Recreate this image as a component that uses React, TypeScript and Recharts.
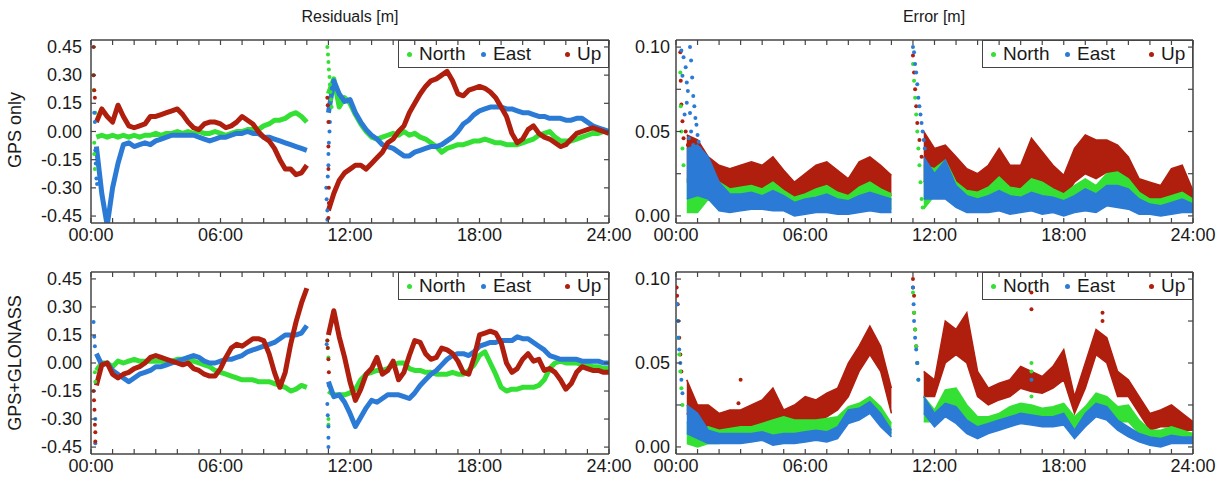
import { ComposedChart, Line, Area, Scatter, XAxis, YAxis } from "recharts";

const FONT = '"Liberation Sans", Arial, Helvetica, sans-serif';
const INK = "#1a1a1a";
const FRAME = "#444";
const GREEN = "#35e035";
const BLUE = "#2b7bd6";
const RED = "#b01e0e";

// axis ticks / labels
const hourTicks = [0, 1, 2, 3, 4, 5, 6, 7, 8, 9, 10, 11, 12, 13, 14, 15, 16, 17, 18, 19, 20, 21, 22, 23, 24];
const resTicks = [-0.45, -0.3, -0.15, 0, 0.15, 0.3, 0.45];
const errTicks = [0, 0.025, 0.05, 0.075, 0.1];
const errLabels = [0, 0.05, 0.1];

// residual time grid (hours), 10.5 is the data gap
const resHours = [
  0.25, 0.5, 0.75, 1, 1.25, 1.5, 1.75, 2, 2.25, 2.5, 2.75, 3, 3.25, 3.5, 3.75, 4, 4.25, 4.5, 4.75, 5,
  5.25, 5.5, 5.75, 6, 6.25, 6.5, 6.75, 7, 7.25, 7.5, 7.75, 8, 8.25, 8.5, 8.75, 9, 9.25, 9.5, 9.75, 10,
  10.5,
  11, 11.25, 11.5, 11.75, 12, 12.25, 12.5, 12.75, 13, 13.25, 13.5, 13.75, 14, 14.25, 14.5, 14.75, 15, 15.25,
  15.5, 15.75, 16, 16.25, 16.5, 16.75, 17, 17.25, 17.5, 17.75, 18, 18.25, 18.5, 18.75, 19, 19.25, 19.5,
  19.75, 20, 20.25, 20.5, 20.75, 21, 21.25, 21.5, 21.75, 22, 22.25, 22.5, 22.75, 23, 23.25, 23.5, 23.75, 24,
];

// GPS only residuals [m]
const gpsNorthRes = [
  -0.03, -0.02, -0.03, -0.02, -0.03, -0.02, -0.03, -0.02, -0.03, -0.02,
  -0.02, -0.01, -0.02, -0.01, -0.01, 0.0, -0.01, 0.0, -0.01, 0.0,
  -0.01, -0.01, 0.0, -0.01, -0.02, -0.01, 0.0, 0.0, 0.01, 0.01,
  0.01, 0.03, 0.04, 0.06, 0.06, 0.07, 0.09, 0.1, 0.08, 0.05,
  null,
  0.2, 0.28, 0.13, 0.18, 0.15, 0.09, 0.04, 0.0, -0.03, -0.04,
  -0.03, -0.02, -0.01, -0.02, 0.0, -0.02, -0.01, -0.03, -0.04, -0.06,
  -0.08, -0.11, -0.09, -0.08, -0.07, -0.07, -0.06, -0.05, -0.05, -0.04,
  -0.05, -0.06, -0.06, -0.07, -0.07, -0.07, -0.06, -0.05, -0.04, -0.02,
  -0.01, 0.0, -0.03, -0.05, -0.05, -0.05, -0.04, -0.03, -0.02, -0.01,
  -0.01, 0.0, 0.0,
];
const gpsEastRes = [
  -0.08, -0.33, -0.5, -0.3, -0.17, -0.07, -0.06, -0.08, -0.07, -0.06,
  -0.07, -0.05, -0.04, -0.03, -0.02, -0.02, -0.02, -0.02, -0.02, -0.03,
  -0.04, -0.05, -0.04, -0.03, -0.03, -0.02, -0.01, -0.01, 0.0, -0.01,
  -0.01, -0.03, -0.03, -0.04, -0.05, -0.06, -0.07, -0.08, -0.09, -0.1,
  null,
  0.1, 0.27, 0.2, 0.16, 0.17, 0.1, 0.05, 0.01, -0.02, -0.04,
  -0.07, -0.08, -0.09, -0.11, -0.13, -0.13, -0.11, -0.1, -0.09, -0.08,
  -0.08, -0.07, -0.05, -0.03, 0.0, 0.04, 0.06, 0.09, 0.11, 0.12,
  0.13, 0.13, 0.13, 0.12, 0.12, 0.11, 0.1, 0.1, 0.09, 0.08,
  0.08, 0.07, 0.07, 0.07, 0.06, 0.06, 0.07, 0.07, 0.05, 0.03,
  0.02, 0.01, 0.0,
];
const gpsUpRes = [
  0.05, 0.12, 0.08, 0.05, 0.14, 0.08, 0.03, 0.02, 0.03, 0.04,
  0.08, 0.08, 0.09, 0.1, 0.11, 0.12, 0.09, 0.05, 0.02, 0.01,
  0.04, 0.05, 0.05, 0.04, 0.02, 0.03, 0.05, 0.08, 0.06, 0.04,
  0.0, -0.03, -0.05, -0.09, -0.15, -0.2, -0.2, -0.23, -0.22, -0.18,
  null,
  -0.42, -0.33, -0.26, -0.22, -0.2, -0.18, -0.18, -0.2, -0.17, -0.14,
  -0.11, -0.06, -0.04, 0.0, 0.03, 0.1, 0.15, 0.2, 0.24, 0.27,
  0.28, 0.3, 0.32, 0.27, 0.2, 0.19, 0.22, 0.23, 0.24, 0.23,
  0.21, 0.18, 0.13, 0.08, -0.01, -0.06, -0.04, 0.01, 0.03, -0.01,
  -0.03, -0.04, -0.06, -0.08, -0.07, -0.04, -0.01, 0.0, 0.01, 0.02,
  0.01, 0.0, -0.01,
];

// GPS+GLONASS residuals [m]
const glnNorthRes = [
  -0.04, 0.0, 0.0, -0.02, 0.01, 0.0, 0.01, 0.02, 0.01, 0.01,
  0.01, 0.01, 0.01, 0.01, 0.01, 0.02, 0.02, 0.02, 0.01, 0.0,
  -0.01, -0.02, -0.04, -0.05, -0.06, -0.07, -0.08, -0.09, -0.09, -0.09,
  -0.1, -0.1, -0.1, -0.11, -0.12, -0.13, -0.15, -0.14, -0.12, -0.13,
  null,
  -0.15, -0.17, -0.17, -0.17, -0.16, -0.14, -0.09, -0.06, -0.05, -0.04,
  -0.04, -0.03, -0.01, 0.0, 0.0, -0.03, -0.04, -0.04, -0.05, -0.05,
  -0.06, -0.06, -0.06, -0.05, -0.06, -0.06, -0.04, -0.01, 0.04, 0.06,
  0.0, -0.06, -0.13, -0.15, -0.14, -0.14, -0.13, -0.13, -0.13, -0.12,
  -0.09, -0.03, 0.0, 0.01, 0.0, 0.0, 0.0, -0.01, -0.01, -0.02,
  -0.02, -0.03, -0.03,
];
const glnEastRes = [
  0.05, -0.01, 0.0, -0.04, -0.06, -0.08, -0.1, -0.08, -0.06, -0.05,
  -0.04, -0.02, -0.02, -0.01, 0.0, 0.01, 0.02, 0.03, 0.04, 0.03,
  0.01, 0.0, 0.0, 0.01, 0.02, 0.02, 0.03, 0.04, 0.06, 0.07,
  0.08, 0.09, 0.1, 0.11, 0.13, 0.15, 0.15, 0.15, 0.16, 0.2,
  null,
  -0.1, -0.18, -0.17, -0.21, -0.27, -0.34, -0.29, -0.24, -0.2, -0.21,
  -0.19, -0.17, -0.17, -0.17, -0.18, -0.19, -0.16, -0.12, -0.09, -0.06,
  -0.04, -0.01, 0.02, 0.04, 0.05, 0.05, 0.04, 0.06, 0.09, 0.1,
  0.11, 0.11, 0.12, 0.12, 0.12, 0.14, 0.13, 0.13, 0.11, 0.09,
  0.07, 0.04, 0.03, 0.02, 0.02, 0.02, 0.02, 0.01, 0.01, 0.01,
  0.01, 0.0, 0.0,
];
const glnUpRes = [
  -0.12, -0.01, 0.0, -0.06, -0.08, -0.06, -0.05, -0.03, -0.02, 0.0,
  0.03, 0.04, 0.03, 0.02, 0.01, 0.0, -0.01, 0.0, -0.03, -0.04,
  -0.06, -0.07, -0.07, -0.03, 0.03, 0.08, 0.1, 0.09, 0.11, 0.13,
  0.13, 0.12, 0.05, -0.05, -0.13, -0.05, 0.1, 0.22, 0.32, 0.4,
  null,
  0.15, 0.28, 0.14, 0.03, -0.1, -0.2, -0.14, -0.06, -0.03, 0.03,
  -0.06, -0.04, 0.01, -0.09, -0.05, 0.04, 0.12, 0.11, 0.05, 0.02,
  0.03, 0.08, 0.07, 0.05, 0.01, -0.05, -0.06, 0.03, 0.15, 0.16,
  0.17, 0.16, 0.11, 0.0, -0.05, -0.03, 0.02, 0.05, 0.01, 0.02,
  -0.04, -0.03, -0.05, -0.09, -0.14, -0.11, -0.05, -0.02, -0.03, -0.04,
  -0.04, -0.05, -0.05,
];

// error time grid (hours), 10.5 is the data gap
const errHours = [
  0.5, 1, 1.5, 2, 2.5, 3, 3.5, 4, 4.5, 5, 5.5, 6, 6.5, 7, 7.5, 8, 8.5, 9, 9.5, 10,
  10.5,
  11.5, 12, 12.5, 13, 13.5, 14, 14.5, 15, 15.5, 16, 16.5, 17, 17.5, 18, 18.5, 19, 19.5, 20, 20.5, 21,
  21.5, 22, 22.5, 23, 23.5, 24,
];

// GPS only error envelope [m] (low / high of the point cloud)
const gpsNorthLo = [
  0.002, 0.002, 0.01, 0.005, 0.005, 0.006, 0.007, 0.006, 0.006, 0.005, 0.003, 0.004, 0.006, 0.006, 0.004, 0.003, 0.006, 0.008, 0.006, 0.004,
  null,
  0.004, 0.012, 0.012, 0.006, 0.004, 0.004, 0.005, 0.008, 0.004, 0.006, 0.008, 0.006, 0.005, 0.003, 0.006, 0.008, 0.006, 0.01, 0.01, 0.008,
  0.003, 0.003, 0.002, 0.003, 0.004, 0.003,
];
const gpsNorthHi = [
  0.022, 0.02, 0.03, 0.02, 0.016, 0.017, 0.018, 0.016, 0.02, 0.015, 0.011, 0.013, 0.016, 0.018, 0.014, 0.012, 0.017, 0.02, 0.016, 0.013,
  null,
  0.03, 0.028, 0.033, 0.02, 0.015, 0.014, 0.017, 0.023, 0.017, 0.016, 0.022, 0.02, 0.016, 0.013, 0.018, 0.022, 0.018, 0.025, 0.026, 0.022,
  0.014, 0.01, 0.01, 0.012, 0.014, 0.01,
];
const gpsEastLo = [
  0.01, 0.012, 0.01, 0.003, 0.002, 0.003, 0.004, 0.004, 0.003, 0.003, 0.0, 0.001, 0.002, 0.002, 0.001, 0.001, 0.002, 0.003, 0.002, 0.002,
  null,
  0.01, 0.01, 0.01, 0.005, 0.002, 0.002, 0.002, 0.003, 0.001, 0.002, 0.003, 0.001, 0.002, 0.0, 0.002, 0.003, 0.002, 0.006, 0.005, 0.004,
  0.001, 0.001, 0.0, 0.001, 0.002, 0.002,
];
const gpsEastHi = [
  0.04, 0.042, 0.035, 0.02, 0.013, 0.013, 0.014, 0.012, 0.015, 0.012, 0.008, 0.01, 0.011, 0.013, 0.01, 0.009, 0.012, 0.014, 0.012, 0.01,
  null,
  0.035, 0.025, 0.033, 0.018, 0.012, 0.01, 0.012, 0.015, 0.012, 0.011, 0.014, 0.012, 0.011, 0.009, 0.012, 0.016, 0.013, 0.018, 0.018, 0.016,
  0.01, 0.007, 0.006, 0.008, 0.01, 0.007,
];
const gpsUpLo = [
  0.02, 0.02, 0.015, 0.01, 0.012, 0.012, 0.013, 0.015, 0.015, 0.01, 0.006, 0.01, 0.013, 0.014, 0.012, 0.01, 0.016, 0.018, 0.014, 0.012,
  null,
  0.02, 0.025, 0.022, 0.015, 0.012, 0.01, 0.014, 0.018, 0.014, 0.016, 0.022, 0.018, 0.014, 0.01, 0.02, 0.025, 0.022, 0.026, 0.025, 0.018,
  0.008, 0.008, 0.007, 0.01, 0.012, 0.008,
];
const gpsUpHi = [
  0.048, 0.045, 0.035, 0.03, 0.028, 0.03, 0.032, 0.03, 0.035, 0.027, 0.02, 0.025, 0.03, 0.032, 0.027, 0.022, 0.032, 0.035, 0.03, 0.024,
  null,
  0.05, 0.04, 0.042, 0.035, 0.028, 0.025, 0.03, 0.04, 0.03, 0.03, 0.046, 0.038, 0.03, 0.024, 0.04, 0.048, 0.045, 0.045, 0.042, 0.035,
  0.022, 0.02, 0.018, 0.028, 0.03, 0.015,
];

// GPS+GLONASS error envelope [m]
const glnNorthLo = [
  0.002, 0.0, 0.002, 0.002, 0.004, 0.004, 0.005, 0.006, 0.006, 0.007, 0.006, 0.007, 0.007, 0.008, 0.01, 0.016, 0.018, 0.022, 0.015, 0.008,
  null,
  0.015, 0.015, 0.022, 0.024, 0.015, 0.01, 0.01, 0.012, 0.015, 0.018, 0.017, 0.016, 0.016, 0.018, 0.01, 0.016, 0.022, 0.02, 0.015, 0.015,
  0.008, 0.004, 0.004, 0.005, 0.004, 0.003,
];
const glnNorthHi = [
  0.015, 0.01, 0.012, 0.01, 0.011, 0.012, 0.012, 0.014, 0.016, 0.018, 0.016, 0.016, 0.016, 0.017, 0.018, 0.024, 0.026, 0.03, 0.024, 0.014,
  null,
  0.03, 0.022, 0.034, 0.035, 0.025, 0.018, 0.018, 0.02, 0.024, 0.026, 0.025, 0.023, 0.024, 0.026, 0.018, 0.024, 0.032, 0.03, 0.024, 0.025,
  0.016, 0.01, 0.01, 0.012, 0.01, 0.008,
];
const glnEastLo = [
  0.008, 0.005, 0.002, 0.002, 0.002, 0.002, 0.003, 0.004, 0.001, 0.002, 0.002, 0.003, 0.004, 0.003, 0.005, 0.014, 0.016, 0.02, 0.012, 0.006,
  null,
  0.02, 0.012, 0.018, 0.014, 0.008, 0.005, 0.008, 0.01, 0.012, 0.014, 0.013, 0.012, 0.012, 0.013, 0.005, 0.012, 0.018, 0.016, 0.01, 0.006,
  0.003, 0.001, 0.0, 0.002, 0.002, 0.002,
];
const glnEastHi = [
  0.025, 0.02, 0.01, 0.008, 0.008, 0.008, 0.008, 0.009, 0.007, 0.008, 0.008, 0.009, 0.01, 0.009, 0.012, 0.022, 0.023, 0.027, 0.02, 0.01,
  null,
  0.03, 0.02, 0.026, 0.024, 0.016, 0.012, 0.014, 0.016, 0.018, 0.02, 0.019, 0.018, 0.018, 0.02, 0.01, 0.02, 0.026, 0.024, 0.016, 0.012,
  0.008, 0.006, 0.005, 0.007, 0.006, 0.006,
];
const glnUpLo = [
  0.02, 0.01, 0.012, 0.008, 0.01, 0.01, 0.012, 0.012, 0.015, 0.01, 0.012, 0.016, 0.015, 0.018, 0.022, 0.03, 0.045, 0.055, 0.045, 0.02,
  null,
  0.03, 0.03, 0.05, 0.055, 0.05, 0.03, 0.025, 0.028, 0.03, 0.035, 0.033, 0.032, 0.035, 0.04, 0.02, 0.035, 0.055, 0.05, 0.03, 0.03,
  0.02, 0.01, 0.012, 0.012, 0.01, 0.01,
];
const glnUpHi = [
  0.04, 0.025, 0.025, 0.02, 0.022, 0.022, 0.025, 0.028, 0.035, 0.022, 0.025, 0.03, 0.028, 0.032, 0.035, 0.05, 0.06, 0.072, 0.06, 0.035,
  null,
  0.045, 0.04, 0.075, 0.07, 0.08, 0.045, 0.035, 0.038, 0.04, 0.048, 0.045, 0.042, 0.048, 0.058, 0.03, 0.05, 0.07, 0.065, 0.045, 0.04,
  0.03, 0.02, 0.022, 0.025, 0.02, 0.015,
];

// scattered convergence points [hour, value]
type Pt = [number, number];
const gpsResNorthDots: Pt[] = [[0.12, 0.3], [0.12, 0.22], [0.15, -0.06], [0.15, -0.12], [0.18, -0.2], [0.2, 0.1], [10.95, 0.45], [10.98, 0.41], [11.0, 0.37], [11.02, 0.33], [11.05, 0.29], [11.07, 0.25], [11.1, 0.21], [11.12, 0.17], [11.15, 0.13]];
const gpsResEastDots: Pt[] = [[0.15, 0.1], [0.18, 0.05], [0.2, -0.1], [0.22, -0.17], [0.25, -0.25], [0.28, -0.28], [10.9, -0.3], [10.92, -0.36], [10.95, -0.42], [10.95, -0.47], [10.97, -0.24], [11.0, -0.18], [11.0, -0.12], [11.02, -0.06], [11.05, 0.0], [11.07, 0.05]];
const gpsResUpDots: Pt[] = [[0.12, 0.45], [0.12, 0.3], [0.15, 0.22], [0.18, 0.18], [10.95, 0.18], [10.97, 0.14], [11.0, 0.05], [11.0, -0.08], [11.0, -0.2], [11.02, -0.3], [11.02, -0.38], [11.0, -0.46]];
const glnResNorthDots: Pt[] = [[0.18, -0.05], [0.2, -0.1], [10.95, 0.12], [10.97, 0.08], [11.0, 0.03], [11.0, -0.3], [11.0, -0.33]];
const glnResEastDots: Pt[] = [[0.12, 0.22], [0.15, 0.14], [0.18, 0.09], [0.2, -0.3], [0.2, -0.43], [10.92, 0.1], [10.95, -0.22], [10.97, -0.28], [11.0, -0.34], [11.0, -0.4], [11.0, -0.45], [11.02, -0.12]];
const glnResUpDots: Pt[] = [[0.12, -0.15], [0.14, -0.2], [0.16, -0.25], [0.18, -0.33], [0.2, -0.37], [0.2, -0.42], [10.95, 0.12], [10.97, 0.08], [11.0, 0.02], [11.02, -0.05]];
const gpsErrNorthDots: Pt[] = [[0.2, 0.085], [0.22, 0.065], [0.25, 0.05], [0.3, 0.04], [0.35, 0.03], [11.0, 0.09], [11.05, 0.08], [11.1, 0.07], [11.15, 0.06], [11.2, 0.05], [11.25, 0.04], [11.3, 0.03], [11.35, 0.02], [11.4, 0.01], [11.45, 0.005]];
const gpsErrEastDots: Pt[] = [[0.25, 0.098], [0.35, 0.094], [0.45, 0.088], [0.3, 0.083], [0.5, 0.079], [0.65, 0.1], [0.7, 0.092], [0.75, 0.082], [0.55, 0.074], [0.8, 0.071], [0.85, 0.065], [0.65, 0.061], [0.9, 0.058], [0.95, 0.054], [0.7, 0.05], [1.0, 0.048], [1.05, 0.044], [0.8, 0.042], [1.1, 0.04], [1.2, 0.037], [0.6, 0.046], [0.4, 0.06], [0.5, 0.067], [11.0, 0.1], [11.05, 0.097], [11.1, 0.09], [11.15, 0.085], [11.2, 0.078], [11.25, 0.07], [11.3, 0.065], [11.35, 0.06], [11.4, 0.055], [11.45, 0.05], [11.5, 0.045], [11.55, 0.04]];
const gpsErrUpDots: Pt[] = [[0.2, 0.097], [0.22, 0.08], [0.25, 0.066], [0.3, 0.056], [0.35, 0.046], [0.45, 0.05], [0.55, 0.042], [11.0, 0.095], [11.05, 0.085], [11.1, 0.075], [11.15, 0.065], [11.2, 0.055], [11.3, 0.045], [11.4, 0.035]];
const glnErrNorthDots: Pt[] = [[0.05, 0.075], [0.1, 0.065], [0.15, 0.055], [0.2, 0.045], [0.25, 0.035], [0.3, 0.025], [11.0, 0.092], [11.05, 0.08], [11.1, 0.07], [11.15, 0.06], [11.2, 0.05], [11.25, 0.04], [16.5, 0.05], [16.5, 0.045], [16.5, 0.03]];
const glnErrEastDots: Pt[] = [[0.05, 0.085], [0.08, 0.075], [0.1, 0.065], [0.15, 0.058], [0.2, 0.05], [0.25, 0.04], [0.3, 0.032], [11.0, 0.095], [11.03, 0.085], [11.05, 0.075], [11.1, 0.065], [11.15, 0.058], [11.2, 0.05], [11.25, 0.04], [16.5, 0.04]];
const glnErrUpDots: Pt[] = [[0.03, 0.095], [0.05, 0.09], [0.08, 0.085], [0.1, 0.075], [0.15, 0.065], [0.2, 0.055], [0.25, 0.045], [3.0, 0.04], [2.9, 0.026], [11.0, 0.1], [11.0, 0.095], [11.05, 0.09], [11.05, 0.08], [11.1, 0.07], [11.15, 0.06], [11.2, 0.05], [16.5, 0.092], [16.5, 0.082], [19.8, 0.08], [19.8, 0.075]];

const seriesMeta = [
  { key: "north", name: "North", color: GREEN },
  { key: "east", name: "East", color: BLUE },
  { key: "up", name: "Up", color: RED },
];

const resRows = (n: (number | null)[], e: (number | null)[], u: (number | null)[]) =>
  resHours.map((t, i) => ({ t, north: n[i], east: e[i], up: u[i] }));

const band = (lo: (number | null)[], hi: (number | null)[], i: number) =>
  lo[i] == null || hi[i] == null ? null : [lo[i], hi[i]];

const errRows = (nl, nh, el, eh, ul, uh) =>
  errHours.map((t, i) => ({ t, north: band(nl, nh, i), east: band(el, eh, i), up: band(ul, uh, i) }));

const toDots = (pts: Pt[]) => pts.map(([t, v]) => ({ t, v }));

const hourLabel = (h: number) => `${String(h).padStart(2, "0")}:00`;
const hasLabel = (list: number[], v: number) => list.some((l) => Math.abs(l - v) < 1e-9);

const bottomTick = (props: any) => {
  const { x, y, payload } = props;
  return (
    <g>
      <line x1={x} y1={y} x2={x} y2={y - 5} stroke={FRAME} strokeWidth={1.2} />
      {payload.value % 6 === 0 && (
        <text x={x} y={y + 18} textAnchor="middle" fontSize={18} fontFamily={FONT} fill={INK}>
          {hourLabel(payload.value)}
        </text>
      )}
    </g>
  );
};

const topTick = (props: any) => {
  const { x, y } = props;
  return <line x1={x} y1={y} x2={x} y2={y + 5} stroke={FRAME} strokeWidth={1.2} />;
};

const leftTick = (labels: number[], gap: number) => (props: any) => {
  const { x, y, payload } = props;
  return (
    <g>
      <line x1={x} y1={y} x2={x + 5} y2={y} stroke={FRAME} strokeWidth={1.2} />
      {hasLabel(labels, payload.value) && (
        <text x={x - gap} y={y} dy={6} textAnchor="end" fontSize={18} fontFamily={FONT} fill={INK}>
          {payload.value.toFixed(2)}
        </text>
      )}
    </g>
  );
};

const rightTick = (props: any) => {
  const { x, y } = props;
  return <line x1={x} y1={y} x2={x - 5} y2={y} stroke={FRAME} strokeWidth={1.2} />;
};

const dotShape = (color: string) => (p: any) => <circle cx={p.cx} cy={p.cy} r={2} fill={color} />;

interface PanelProps {
  left: number;
  top: number;
  width: number;
  height: number;
  plot: { top: number; right: number; bottom: number; left: number }; // plot edge offsets
  mode: "res" | "err";
  rows: any[];
  dots: Record<string, Pt[]>;
}

const Panel = ({ left, top, width, height, plot, mode, rows, dots }: PanelProps) => {
  const isRes = mode === "res";
  const domain: [number, number] = isRes ? [-0.487, 0.487] : [-0.0042, 0.1042];
  const yTicks = isRes ? resTicks : errTicks;
  const yLabels = isRes ? resTicks : errLabels;
  const order = isRes ? seriesMeta : [seriesMeta[2], seriesMeta[0], seriesMeta[1]];
  const plotRight = width - plot.right;
  // every axis takes 1px, the margin supplies the rest
  const margin = { top: plot.top - 1, right: plot.right - 1, bottom: plot.bottom - 1, left: plot.left - 1 };

  return (
    <div style={{ position: "absolute", left, top, width, height }}>
      <div
        style={{
          position: "absolute",
          left: plotRight - 211,
          top: plot.top,
          width: 209,
          height: 26,
          border: `1.5px solid ${FRAME}`,
          background: "#fff",
          fontFamily: FONT,
          fontSize: 19,
          color: INK,
        }}
      >
        {seriesMeta.map((s, i) => (
          <div key={s.key} style={{ position: "absolute", left: [8, 82, 166][i], top: 2, display: "flex", alignItems: "center", height: 22 }}>
            <span style={{ width: 5, height: 5, borderRadius: 3, background: s.color, marginRight: 7 }} />
            <span>{s.name}</span>
          </div>
        ))}
      </div>
      <div style={{ position: "absolute", left: 0, top: 0 }}>
        <ComposedChart width={width} height={height} data={rows} margin={margin}>
          <XAxis
            dataKey="t"
            type="number"
            domain={[0, 24]}
            allowDataOverflow
            ticks={hourTicks}
            interval={0}
            height={1}
            tickSize={0}
            tickMargin={0}
            tickLine={false}
            tick={bottomTick}
            axisLine={{ stroke: FRAME, strokeWidth: 1.5 }}
          />
          <XAxis
            xAxisId="top"
            orientation="top"
            dataKey="t"
            type="number"
            domain={[0, 24]}
            allowDataOverflow
            ticks={hourTicks}
            interval={0}
            height={1}
            tickSize={0}
            tickMargin={0}
            tickLine={false}
            tick={topTick}
            axisLine={{ stroke: FRAME, strokeWidth: 1.5 }}
          />
          <YAxis
            type="number"
            domain={domain}
            allowDataOverflow
            ticks={yTicks}
            interval={0}
            width={1}
            tickSize={0}
            tickMargin={0}
            tickLine={false}
            tick={leftTick(yLabels, isRes ? 9 : 6)}
            axisLine={{ stroke: FRAME, strokeWidth: 1.5 }}
          />
          <YAxis
            yAxisId="right"
            orientation="right"
            type="number"
            domain={domain}
            allowDataOverflow
            ticks={yTicks}
            interval={0}
            width={1}
            tickSize={0}
            tickMargin={0}
            tickLine={false}
            tick={rightTick}
            axisLine={{ stroke: FRAME, strokeWidth: 1.5 }}
          />
          {order.map((s) =>
            isRes ? (
              <Line
                key={s.key}
                dataKey={s.key}
                type="linear"
                stroke={s.color}
                strokeWidth={5}
                strokeLinejoin="round"
                dot={false}
                connectNulls={false}
                isAnimationActive={false}
              />
            ) : (
              <Area
                key={s.key}
                dataKey={s.key}
                type="linear"
                stroke={s.color}
                strokeWidth={1.5}
                fill={s.color}
                fillOpacity={1}
                connectNulls={false}
                isAnimationActive={false}
              />
            )
          )}
          {order.map((s) => (
            <Scatter
              key={`d-${s.key}`}
              data={toDots(dots[s.key])}
              dataKey="v"
              fill={s.color}
              shape={dotShape(s.color)}
              isAnimationActive={false}
            />
          ))}
        </ComposedChart>
      </div>
    </div>
  );
};

const sideLabel = (text: string, cx: number, cy: number) => (
  <div
    style={{
      position: "absolute",
      left: cx,
      top: cy,
      transform: "translate(-50%, -50%) rotate(-90deg)",
      whiteSpace: "nowrap",
      fontFamily: FONT,
      fontSize: 18,
      color: INK,
    }}
  >
    {text}
  </div>
);

const title = (text: string, cx: number) => (
  <div
    style={{
      position: "absolute",
      left: cx,
      top: 8,
      transform: "translateX(-50%)",
      whiteSpace: "nowrap",
      fontFamily: FONT,
      fontSize: 16,
      color: INK,
    }}
  >
    {text}
  </div>
);

export default function App() {
  return (
    <div style={{ position: "absolute", left: 0, top: 0, width: 1225, height: 479, background: "#fff", overflow: "hidden" }}>
      {title("Residuals [m]", 350)}
      {title("Error [m]", 934)}
      {sideLabel("GPS only", 15, 130)}
      {sideLabel("GPS+GLONASS", 15, 363)}
      <Panel
        left={0}
        top={0}
        width={640}
        height={262}
        plot={{ top: 40, right: 31, bottom: 39, left: 91 }}
        mode="res"
        rows={resRows(gpsNorthRes, gpsEastRes, gpsUpRes)}
        dots={{ north: gpsResNorthDots, east: gpsResEastDots, up: gpsResUpDots }}
      />
      <Panel
        left={605}
        top={0}
        width={620}
        height={262}
        plot={{ top: 40, right: 32, bottom: 39, left: 71 }}
        mode="err"
        rows={errRows(gpsNorthLo, gpsNorthHi, gpsEastLo, gpsEastHi, gpsUpLo, gpsUpHi)}
        dots={{ north: gpsErrNorthDots, east: gpsErrEastDots, up: gpsErrUpDots }}
      />
      <Panel
        left={0}
        top={240}
        width={640}
        height={239}
        plot={{ top: 32, right: 31, bottom: 25, left: 91 }}
        mode="res"
        rows={resRows(glnNorthRes, glnEastRes, glnUpRes)}
        dots={{ north: glnResNorthDots, east: glnResEastDots, up: glnResUpDots }}
      />
      <Panel
        left={605}
        top={240}
        width={620}
        height={239}
        plot={{ top: 32, right: 32, bottom: 25, left: 71 }}
        mode="err"
        rows={errRows(glnNorthLo, glnNorthHi, glnEastLo, glnEastHi, glnUpLo, glnUpHi)}
        dots={{ north: glnErrNorthDots, east: glnErrEastDots, up: glnErrUpDots }}
      />
    </div>
  );
}
